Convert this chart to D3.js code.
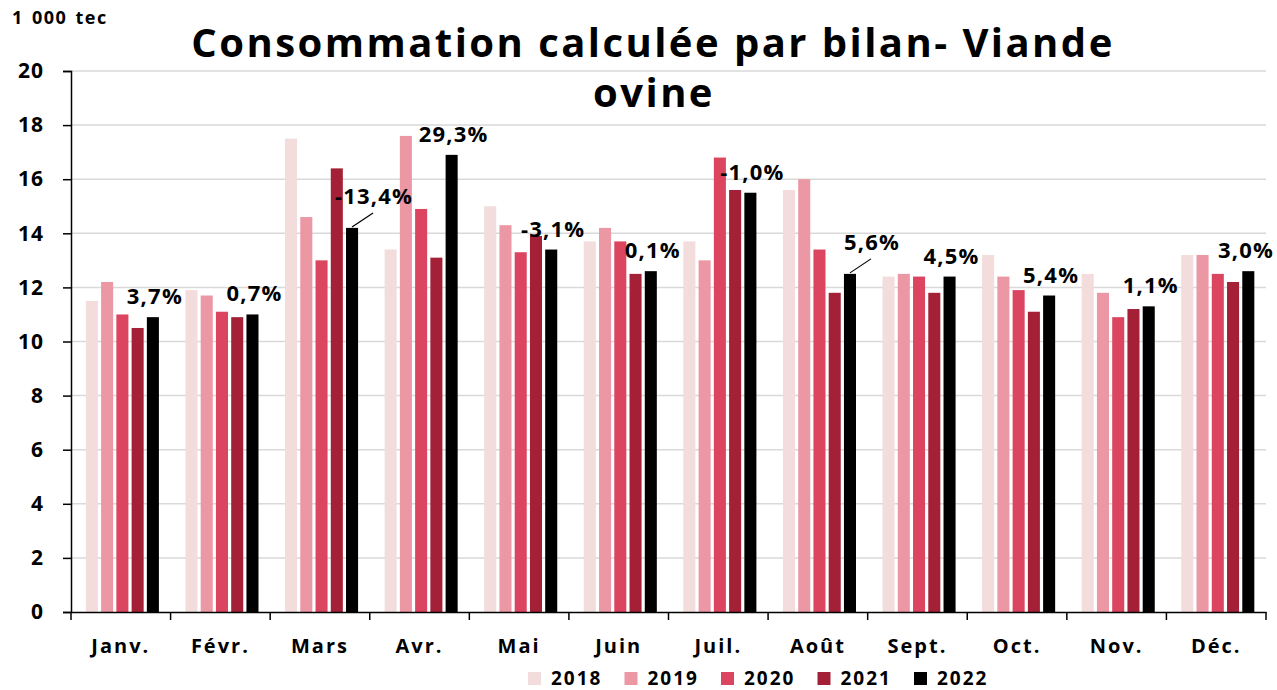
<!DOCTYPE html>
<html>
<head>
<meta charset="utf-8">
<script src="https://cdn.jsdelivr.net/npm/d3@7"></script>
<style>
  body { margin: 0; background: #fff; }
  text { font-family: "Open Sans", Lato, sans-serif; font-weight: 700; fill: #000; }
</style>
</head>
<body>
<div id="chart"></div>
<script>
const months = ["Janv.", "Févr.", "Mars", "Avr.", "Mai", "Juin", "Juil.", "Août", "Sept.", "Oct.", "Nov.", "Déc."];
const years = ["2018", "2019", "2020", "2021", "2022"];
const colors = ["#f2dcdc", "#eb97a4", "#db4560", "#a32036", "#000000"];

const v2018 = [11.5, 11.9, 17.5, 13.4, 15.0, 13.7, 13.7, 15.6, 12.4, 13.2, 12.5, 13.2];
const v2019 = [12.2, 11.7, 14.6, 17.6, 14.3, 14.2, 13.0, 16.0, 12.5, 12.4, 11.8, 13.2];
const v2020 = [11.0, 11.1, 13.0, 14.9, 13.3, 13.7, 16.8, 13.4, 12.4, 11.9, 10.9, 12.5];
const v2021 = [10.5, 10.9, 16.4, 13.1, 13.9, 12.5, 15.6, 11.8, 11.8, 11.1, 11.2, 12.2];
const v2022 = [10.9, 11.0, 14.2, 16.9, 13.4, 12.6, 15.5, 12.5, 12.4, 11.7, 11.3, 12.6];
const series = [v2018, v2019, v2020, v2021, v2022];

const changeLabels = ["3,7%", "0,7%", "-13,4%", "29,3%", "-3,1%", "0,1%", "-1,0%", "5,6%", "4,5%", "5,4%", "1,1%", "3,0%"];
const leaderMonths = ["Mars", "Août"];
const yTicks = [0, 2, 4, 6, 8, 10, 12, 14, 16, 18, 20];

const width = 1277, height = 690;
const margin = { left: 71, right: 11, top: 71, bottom: 78 };

const svg = d3.select("#chart").append("svg")
  .attr("width", width).attr("height", height);

const x = d3.scaleBand().domain(months)
  .range([margin.left, width - margin.right]).paddingInner(0).paddingOuter(0);
const xs = d3.scaleBand().domain(years)
  .range([0, x.bandwidth()]).paddingInner(0.21).paddingOuter(0.87).align(0.56);
const y = d3.scaleLinear().domain([0, 20]).range([height - margin.bottom, margin.top]);

// grid
svg.append("g").selectAll("line").data(yTicks.slice(1)).enter().append("line")
  .attr("x1", margin.left).attr("x2", width - margin.right)
  .attr("y1", d => y(d)).attr("y2", d => y(d))
  .attr("stroke", "#d9d9d9").attr("stroke-width", 1.5);

// bars
const rows = months.map((m, i) => ({ month: m, vals: series.map(s => s[i]) }));
const groups = svg.append("g").selectAll("g").data(rows).enter().append("g")
  .attr("transform", d => `translate(${x(d.month)},0)`);
groups.selectAll("rect").data(d => d.vals.map((v, j) => ({ year: years[j], v, c: colors[j] })))
  .enter().append("rect")
  .attr("x", d => xs(d.year))
  .attr("width", xs.bandwidth())
  .attr("y", d => y(d.v))
  .attr("height", d => y(0) - y(d.v))
  .attr("fill", d => d.c);

// y axis
const yAxis = svg.append("g").attr("transform", `translate(${margin.left},0)`)
  .call(d3.axisLeft(y).tickValues(yTicks).tickSize(8).tickPadding(19).tickFormat(d3.format("d")));
yAxis.select(".domain").attr("stroke-width", 1.5);
yAxis.selectAll(".tick line").attr("stroke-width", 1.5);
yAxis.selectAll("text").style("font-size", "21px").style("letter-spacing", "1px").attr("fill", "#000");

// x axis
const xAxis = svg.append("g").attr("transform", `translate(0,${y(0)})`)
  .call(d3.axisBottom(x).tickSize(0).tickPadding(27));
xAxis.select(".domain").attr("stroke-width", 1.5);
xAxis.selectAll("text").style("font-size", "20px").style("letter-spacing", "2px").attr("fill", "#000");
svg.append("g").selectAll("line").data(months.concat(["end"])).enter().append("line")
  .attr("x1", (d, i) => margin.left + i * x.bandwidth())
  .attr("x2", (d, i) => margin.left + i * x.bandwidth())
  .attr("y1", y(0)).attr("y2", y(0) + 8)
  .attr("stroke", "#000").attr("stroke-width", 1.5);

// change labels
const lab = svg.append("g");
rows.forEach((d, i) => {
  const bx = x(d.month) + xs("2022") + xs.bandwidth() / 2;
  const by = y(v2022[i]);
  const leader = leaderMonths.includes(d.month);
  let tx = leader ? bx + 22 : bx + 2;
  const ty = leader ? by - 24 : by - 13;
  if (leader) {
    lab.append("line").attr("x1", bx).attr("y1", by - 1).attr("x2", bx + 21).attr("y2", by - 15)
      .attr("stroke", "#000").attr("stroke-width", 1.2);
  }
  const t = lab.append("text").attr("y", ty)
    .attr("text-anchor", "middle").style("font-size", "22px").style("letter-spacing", "1.2px")
    .text(changeLabels[i]);
  const half = t.node().getComputedTextLength() / 2;
  if (tx + half > width - 3) tx = width - 3 - half;
  t.attr("x", tx);
});

// unit
svg.append("text").attr("x", 12).attr("y", 24).style("font-size", "18px")
  .style("letter-spacing", "1.5px").style("word-spacing", "2px").text("1 000 tec");

// title
const titleLines = ["Consommation calculée par bilan- Viande", "ovine"];
const t1 = svg.append("text").attr("x", 653).attr("y", 57).attr("text-anchor", "middle")
  .style("font-size", "40px").text(titleLines[0]);
const w1 = t1.node().getComputedTextLength();
const ls = Math.max(0, (921 - w1) / (titleLines[0].length - 1));
t1.style("letter-spacing", ls + "px");
svg.append("text").attr("x", 654).attr("y", 107).attr("text-anchor", "middle")
  .style("font-size", "40px").style("letter-spacing", ls + "px").text(titleLines[1]);

// legend
const leg = svg.append("g").attr("transform", "translate(528,670)");
years.forEach((yr, j) => {
  const g = leg.append("g").attr("transform", `translate(${j * 96.5},0)`);
  g.append("rect").attr("y", 2).attr("width", 13).attr("height", 13).attr("fill", colors[j]);
  g.append("text").attr("x", 23).attr("y", 15).style("font-size", "19px").style("letter-spacing", "2px").text(yr);
});
</script>
</body>
</html>
